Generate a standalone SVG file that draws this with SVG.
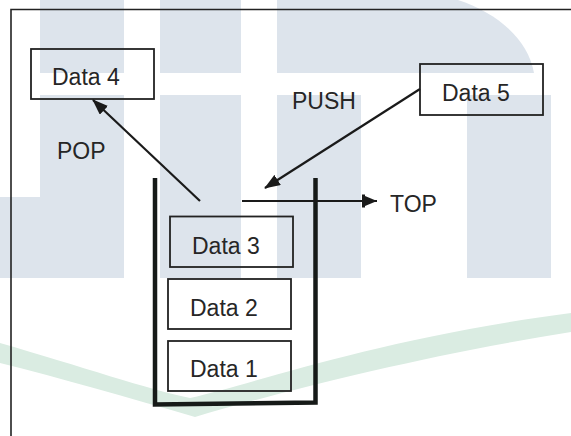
<svg xmlns="http://www.w3.org/2000/svg" width="571" height="436" viewBox="0 0 571 436">
  <style>
    .wm { fill: #dde4ec; }
    .sw { fill: #daece2; }
    .box { fill: none; stroke: #222; stroke-width: 1.8; }
    .lbl { font-family: "Liberation Sans", Arial, sans-serif; font-size: 23px; fill: #262626; }
    .conn { stroke: #1a1a1a; stroke-width: 2.2; fill: none; }
    .wall { stroke: #161a18; stroke-width: 4.5; fill: none; stroke-linejoin: miter; }
  </style>
  <defs>
    <marker id="arrow" viewBox="0 0 16 12" markerWidth="16" markerHeight="12" refX="15" refY="6" orient="auto" markerUnits="userSpaceOnUse">
      <path d="M0,0 L16,6 L0,12 Z" fill="#1a1a1a"/>
    </marker>
    <marker id="bararrow" viewBox="0 0 15 14" markerWidth="15" markerHeight="14" refX="15" refY="7" orient="auto" markerUnits="userSpaceOnUse">
      <rect x="0" y="0.5" width="3" height="13" fill="#1a1a1a"/>
      <path d="M3,2 L15,7 L3,12 Z" fill="#1a1a1a"/>
    </marker>
  </defs>

  <rect width="571" height="436" fill="#ffffff"/>

  <g id="watermark">
    <rect class="wm" x="40" y="0" width="84" height="73"/>
    <rect class="wm" x="160" y="0" width="81" height="73"/>
    <path class="wm" d="M277,0 H458 C495,12 528,38 534,73 H277 Z"/>
    <rect class="wm" x="40" y="95" width="84" height="183"/>
    <rect class="wm" x="0" y="197" width="40" height="81"/>
    <rect class="wm" x="160" y="95" width="81" height="183"/>
    <rect class="wm" x="277" y="95" width="84" height="183"/>
    <rect class="wm" x="467" y="95" width="84" height="183"/>
    <path class="sw" d="M0,343 C80,366 150,390 190,398 C260,382 380,338 571,313 L571,332 C420,356 280,392 195,417 C130,398 60,378 0,363 Z"/>
  </g>

  <path id="frame" d="M11,436 V9.5 H571" fill="none" stroke="#222" stroke-width="1.6"/>

  <g id="stack">
    <polyline class="wall" points="155,178 155,404.5 315.5,402.5 315.5,178"/>
  </g>

  <g id="data4">
    <rect class="box" x="31" y="49" width="123" height="50"/>
    <text class="lbl" x="52" y="85">Data 4</text>
  </g>
  <g id="data5">
    <rect class="box" x="420" y="64" width="123" height="51"/>
    <text class="lbl" x="442" y="101">Data 5</text>
  </g>
  <g id="data3">
    <rect class="box" x="170" y="216.5" width="123" height="50.5"/>
    <text class="lbl" x="192" y="254">Data 3</text>
  </g>
  <g id="data2">
    <rect class="box" x="168" y="279" width="123" height="50"/>
    <text class="lbl" x="190" y="316">Data 2</text>
  </g>
  <g id="data1">
    <rect class="box" x="168" y="341" width="123" height="50"/>
    <text class="lbl" x="190" y="377">Data 1</text>
  </g>

  <g id="connectors">
    <line class="conn" x1="200" y1="201" x2="93" y2="100" marker-end="url(#arrow)"/>
    <line class="conn" x1="420" y1="89" x2="265" y2="188" marker-end="url(#arrow)"/>
    <line class="conn" x1="242" y1="201" x2="377" y2="201" marker-end="url(#bararrow)"/>
    <text class="lbl" x="57" y="159">POP</text>
    <text class="lbl" x="292" y="109">PUSH</text>
    <text class="lbl" x="390" y="212">TOP</text>
  </g>
</svg>
